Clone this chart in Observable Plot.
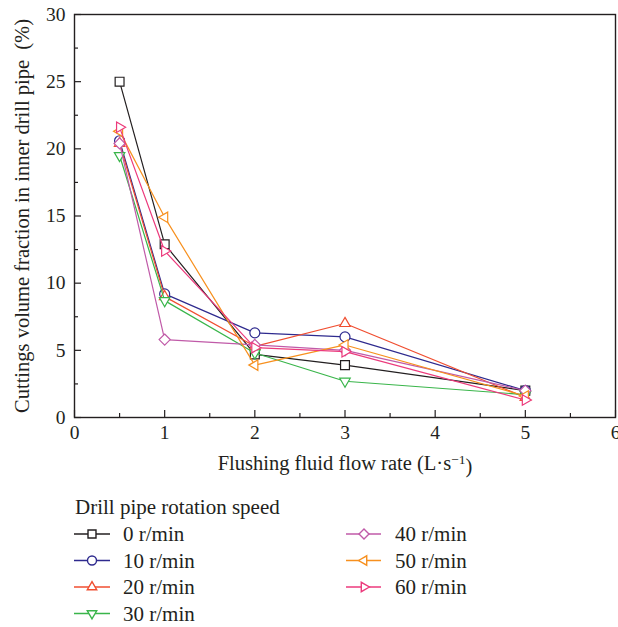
<!DOCTYPE html>
<html><head><meta charset="utf-8">
<script src="https://cdn.jsdelivr.net/npm/d3@7"></script>
<script src="https://cdn.jsdelivr.net/npm/@observablehq/plot@0.6"></script>
<style>
body{margin:0;background:#fff;}
#wrap{width:618px;overflow:hidden;}
svg{display:block;}
</style></head><body><div id="wrap"></div>
<script>
// ---- data ----
const flowRates = [0.5, 1, 2, 3, 5];
const speeds = ["0 r/min", "10 r/min", "20 r/min", "30 r/min", "40 r/min", "50 r/min", "60 r/min"];
const s0  = [25.0, 12.9, 4.7, 3.9, 2.0];
const s10 = [20.6, 9.2, 6.3, 6.0, 2.0];
const s20 = [20.4, 9.0, 5.3, 7.0, 1.5];
const s30 = [19.5, 8.7, 4.8, 2.7, 1.7];
const s40 = [20.4, 5.8, 5.4, 5.0, 2.0];
const s50 = [21.3, 14.9, 3.9, 5.4, 1.6];
const s60 = [21.6, 12.4, 5.2, 4.9, 1.3];
const seriesValues = [s0, s10, s20, s30, s40, s50, s60];
const colors = ["#231f20", "#2e2a8e", "#f04e30", "#39b54a", "#c05aa8", "#f7901e", "#ec3a7c"];
const symbols = ["square", "circle", "triangle2", "triangle2", "diamond2", "triangle2", "triangle2"];
const rotations = [0, 0, 0, 180, 0, -90, 90];
const xTicks = [0, 1, 2, 3, 4, 5, 6];
const xMinor = [0.5, 1.5, 2.5, 3.5, 4.5, 5.5];
const yTicks = [0, 5, 10, 15, 20, 25, 30];
const yMinor = [2.5, 7.5, 12.5, 17.5, 22.5, 27.5];
const xLabel = "Flushing fluid flow rate (L·s";
const yLabel = "Cuttings volume fraction in inner drill pipe\u2002(%)";
const legendTitle = "Drill pipe rotation speed";

// ---- layout ----
const W = 618, H = 485;
const mL = 74, mR = 3, mT = 14, mB = 68;
const pW = W - mL - mR, pH = H - mT - mB;
const ink = "#231f20";
const font = "Liberation Serif, Times New Roman, serif";

const rows = [];
speeds.forEach((s, i) => flowRates.forEach((x, j) => rows.push({x, y: seriesValues[i][j], s, i})));

const marks = [
  Plot.ruleX(xTicks, {x: d => d, insetTop: pH - 7, stroke: ink, strokeWidth: 1.2}),
  Plot.ruleX(xMinor, {x: d => d, insetTop: pH - 4, stroke: ink, strokeWidth: 1.2}),
  Plot.ruleY(yTicks, {y: d => d, insetRight: pW - 7, stroke: ink, strokeWidth: 1.2}),
  Plot.ruleY(yMinor, {y: d => d, insetRight: pW - 4, stroke: ink, strokeWidth: 1.2}),
  Plot.axisX(xTicks, {tickSize: 0, tickPadding: 8, fontSize: 19.5, label: null, fill: ink}),
  Plot.axisY(yTicks, {tickSize: 0, tickPadding: 9, fontSize: 19.5, label: null, fill: ink}),
  Plot.text([yLabel], {text: d => d, frameAnchor: "left", dx: -52, rotate: -90, textAnchor: "middle", lineAnchor: "middle", fontSize: 20.5, fill: ink}),
  Plot.text([xLabel], {text: d => d, frameAnchor: "bottom", dy: 46, textAnchor: "middle", lineAnchor: "middle", fontSize: 20.5, fill: ink})
];
speeds.forEach((s, i) => {
  const d = rows.filter(r => r.i === i);
  marks.push(Plot.line(d, {x: "x", y: "y", stroke: colors[i], strokeWidth: 1.2}));
  marks.push(Plot.dot(d, {x: "x", y: "y", symbol: symbols[i], rotate: rotations[i], r: 5, stroke: colors[i], fill: "white", strokeWidth: 1.2}));
});
marks.push(Plot.frame({stroke: ink, strokeWidth: 1.4}));

const chart = Plot.plot({
  width: W, height: H,
  marginLeft: mL, marginRight: mR, marginTop: mT, marginBottom: mB,
  style: {fontFamily: font, background: "white", overflow: "visible"},
  x: {domain: [0, 6], axis: null},
  y: {domain: [0, 30], axis: null},
  marks
});
document.getElementById("wrap").appendChild(chart);

// superscript in x label
d3.select(chart).selectAll("text").each(function() {
  if (this.textContent === xLabel) {
    const t = d3.select(this);
    t.append("tspan").attr("dy", "-0.45em").attr("font-size", 13.5).text("−1");
    t.append("tspan").attr("dy", "0.45em").text(")");
  }
});

// ---- legend ----
const LH = 142;
const leg = d3.select("#wrap").append("svg").attr("width", W).attr("height", LH)
  .style("font-family", font).style("font-size", "21px");
leg.append("text").attr("x", 75).attr("y", 22).attr("dy", "0.35em").attr("fill", ink).text(legendTitle);
const colX = [{x1: 74, x2: 110, cx: 92, tx: 123}, {x1: 346, x2: 381, cx: 364, tx: 395}];
const rowY = [49, 75.5, 102, 128.5];
const d3sym = {square: d3.symbolSquare, circle: d3.symbolCircle, triangle2: d3.symbolTriangle2, diamond2: d3.symbolDiamond2};
speeds.forEach((s, i) => {
  const c = colX[i < 4 ? 0 : 1];
  const y = rowY[i < 4 ? i : i - 4];
  const g = leg.append("g");
  g.append("line").attr("x1", c.x1).attr("x2", c.x2).attr("y1", y).attr("y2", y).attr("stroke", colors[i]).attr("stroke-width", 1.4);
  g.append("path").attr("d", d3.symbol(d3sym[symbols[i]], Math.PI * 4.5 * 4.5)())
    .attr("transform", `translate(${c.cx},${y}) rotate(${rotations[i]})`)
    .attr("fill", "white").attr("stroke", colors[i]).attr("stroke-width", 1.4);
  g.append("text").attr("x", c.tx).attr("y", y).attr("dy", "0.35em").attr("fill", ink).text(s);
});
</script></body></html>
